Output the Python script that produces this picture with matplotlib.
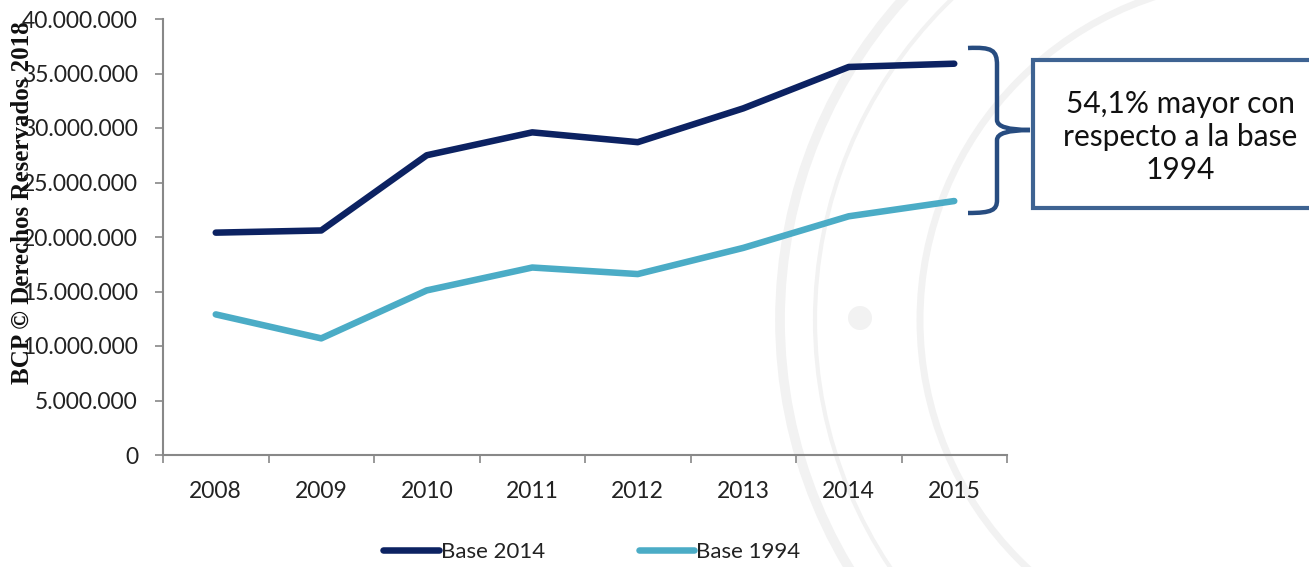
import numpy as np
import matplotlib.pyplot as plt
from matplotlib.path import Path
from matplotlib.patches import PathPatch, Rectangle, Circle
from matplotlib.transforms import IdentityTransform
from matplotlib.ticker import FuncFormatter, FixedLocator

# Data
years = ["2008", "2009", "2010", "2011", "2012", "2013", "2014", "2015"]
base_2014 = [20.4, 20.6, 27.5, 29.6, 28.7, 31.8, 35.6, 35.9]  # millions
base_1994 = [12.9, 10.7, 15.1, 17.2, 16.6, 19.0, 21.9, 23.3]  # millions
series_labels = ["Base 2014", "Base 1994"]
y_ticks = [0, 5, 10, 15, 20, 25, 30, 35, 40]
note_text = "54,1% mayor con\nrespecto a la base\n1994"
watermark = "BCP © Derechos Reservados 2018"

W, H = 1309, 567
fig = plt.figure(figsize=(W / 100, H / 100), dpi=100)
plt.rcParams['font.family'] = ['Lato', 'DejaVu Sans']


def fx(px):
    return px / W


def fy(py):
    return 1 - py / H


# faint seal in the background (pixel coordinates, y from bottom)
for cx, cy, r, lw in [(1260, 320, 480, 7), (1260, 320, 445, 3), (1260, 320, 340, 5)]:
    fig.add_artist(Circle((cx, H - cy), r, transform=IdentityTransform(),
                          fill=False, ec="#f2f2f2", lw=lw, zorder=0))
fig.add_artist(Circle((860, H - 318), 12, transform=IdentityTransform(),
                      fc="#f2f2f2", ec="none", zorder=0))

ax = fig.add_axes([fx(163), fy(455), fx(1007) - fx(163), fy(19) - fy(455)])
ax.set_facecolor("none")
x = np.arange(len(years))
ax.plot(x, base_2014, color="#0c2262", lw=4.7, solid_capstyle="round",
        solid_joinstyle="round", label=series_labels[0])
ax.plot(x, base_1994, color="#4bacc6", lw=4.7, solid_capstyle="round",
        solid_joinstyle="round", label=series_labels[1])

ax.set_xlim(-0.5, len(years) - 0.5)
ax.set_ylim(0, 40)
ax.set_yticks(y_ticks)
ax.yaxis.set_major_formatter(FuncFormatter(
    lambda v, p: "0" if v == 0 else f"{int(v * 1e6):,}".replace(",", ".")))
ax.xaxis.set_major_locator(FixedLocator(np.arange(-0.5, len(years), 1.0)))
ax.xaxis.set_major_formatter(FuncFormatter(lambda v, p: ""))
ax.set_xticks(x, minor=True)
ax.set_xticklabels(years, minor=True)
ax.tick_params(axis="x", which="minor", length=0, pad=19, labelsize=16.5, colors="#222222")
ax.tick_params(axis="x", which="major", length=6, width=1.2, color="#888888")
ax.tick_params(axis="y", length=6, width=1.2, color="#888888", labelsize=16.5,
               labelcolor="#222222", pad=12)
for s in ["top", "right"]:
    ax.spines[s].set_visible(False)
for s in ["left", "bottom"]:
    ax.spines[s].set_color("#888888")
    ax.spines[s].set_linewidth(1.5)

leg = fig.legend(loc="center", bbox_to_anchor=(fx(592), fy(552)), ncol=2,
                 frameon=False, fontsize=16, handlelength=2.5, handletextpad=0.1,
                 columnspacing=4.2)
for t in leg.get_texts():
    t.set_color("#222222")

# watermark
fig.text(fx(22), fy(203), watermark, rotation=90, ha="center", va="center",
         family=["Liberation Serif", "DejaVu Serif"], fontweight="bold",
         fontsize=18, color="#111111", zorder=10)

# curly bracket
bc = "#274c80"
verts = [
    (968, 48), (992, 47), (997, 50), (997, 65),
    (997, 120), (997, 130), (1030, 130),
    (997, 130), (997, 140), (997, 200),
    (997, 210), (992, 213), (968, 213),
]
codes = [Path.MOVETO, Path.CURVE4, Path.CURVE4, Path.CURVE4,
         Path.LINETO, Path.CURVE3, Path.CURVE3,
         Path.CURVE3, Path.CURVE3, Path.LINETO,
         Path.CURVE4, Path.CURVE4, Path.CURVE4]
path = Path([(fx(a), fy(b)) for a, b in verts], codes)
fig.add_artist(PathPatch(path, transform=fig.transFigure, fill=False,
                         ec=bc, lw=3.2, capstyle="butt"))

# note box
fig.add_artist(Rectangle((fx(1033), fy(208)), fx(1320) - fx(1033), fy(60) - fy(208),
                         transform=fig.transFigure, fc="white", ec="#3e6392", lw=3))
fig.text(fx(1180), fy(137), note_text, ha="center", va="center", fontsize=21.5,
         color="#111111", linespacing=1.2)

fig.savefig("out.png", dpi=100)
